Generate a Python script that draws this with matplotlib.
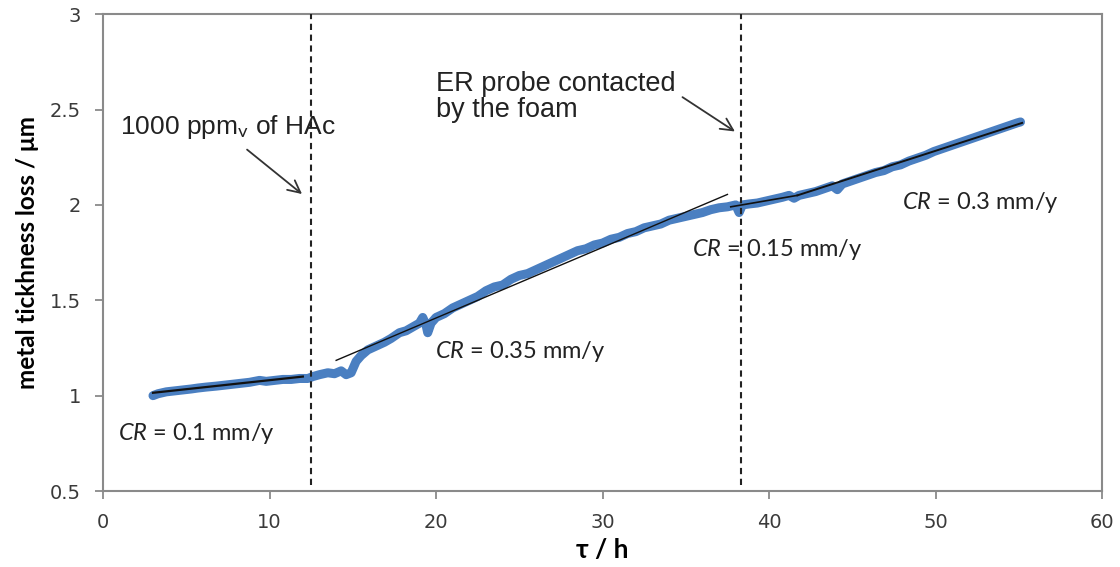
import matplotlib
matplotlib.use('Agg')
import matplotlib.pyplot as plt

plt.rcParams['mathtext.fontset'] = 'custom'
plt.rcParams['mathtext.rm'] = 'Lato'
plt.rcParams['mathtext.it'] = 'Lato:italic'

tau = [3.0, 3.3, 3.8, 4.3, 4.8, 5.3, 5.7, 6.2, 6.8, 7.3, 7.8, 8.3, 8.8, 9.4, 9.8,
       10.3, 10.8, 11.3, 11.8, 12.3, 12.6, 13.0, 13.5, 13.9, 14.3, 14.6, 14.9,
       15.2, 15.5, 15.9, 16.4, 16.9, 17.3, 17.8, 18.2, 18.6, 19.0, 19.2, 19.4,
       19.5, 19.7, 20.0, 20.5, 21.0, 21.5, 22.0, 22.5, 23.0, 23.5, 24.0, 24.5,
       25.0, 25.5, 26.0, 26.5, 27.0, 27.5, 28.0, 28.5, 29.0, 29.5, 30.0, 30.5,
       31.0, 31.5, 32.0, 32.5, 33.0, 33.5, 34.0, 34.5, 35.0, 35.5, 36.0, 36.5,
       37.0, 37.5, 38.0, 38.2, 38.4, 38.8, 39.3, 39.8, 40.3, 40.8, 41.2, 41.5,
       41.8, 42.3, 42.8, 43.3, 43.8, 44.1, 44.4, 44.9, 45.4, 45.9, 46.4, 46.9,
       47.4, 47.9, 48.4, 48.9, 49.4, 49.9, 50.4, 50.9, 51.4, 51.9, 52.4, 52.9,
       53.4, 53.9, 54.4, 54.9, 55.1]
loss = [1.00, 1.01, 1.02, 1.025, 1.03, 1.035, 1.04, 1.045, 1.05, 1.055, 1.06,
        1.065, 1.07, 1.08, 1.075, 1.08, 1.085, 1.085, 1.09, 1.09, 1.10, 1.11,
        1.12, 1.115, 1.13, 1.11, 1.12, 1.18, 1.21, 1.24, 1.26, 1.28, 1.30, 1.33,
        1.34, 1.36, 1.38, 1.41, 1.37, 1.33, 1.38, 1.41, 1.43, 1.46, 1.48, 1.50,
        1.52, 1.55, 1.57, 1.58, 1.61, 1.63, 1.64, 1.66, 1.68, 1.70, 1.72, 1.74,
        1.76, 1.77, 1.79, 1.80, 1.82, 1.83, 1.85, 1.86, 1.88, 1.89, 1.90, 1.92,
        1.93, 1.94, 1.95, 1.96, 1.975, 1.985, 1.99, 2.00, 1.96, 2.00, 2.005,
        2.01, 2.02, 2.03, 2.04, 2.05, 2.035, 2.05, 2.06, 2.07, 2.085, 2.10,
        2.08, 2.11, 2.125, 2.14, 2.155, 2.17, 2.18, 2.20, 2.21, 2.23, 2.245,
        2.26, 2.28, 2.295, 2.31, 2.325, 2.34, 2.355, 2.37, 2.385, 2.40, 2.415,
        2.43, 2.435]

# linear fits (end points)
fit_x = [[3.0, 12.0], [14.0, 37.5], [37.7, 41.7], [41.7, 55.2]]
fit_y = [[1.015, 1.10], [1.185, 2.055], [1.99, 2.05], [2.05, 2.43]]
fit_lw = [1.6, 1.0, 1.2, 1.4]

events = [12.5, 38.3]

cr_labels = ['0.1', '0.35', '0.15', '0.3']
cr_x = [0.9, 19.95, 35.4, 48.0]
cr_y = [0.80, 1.23, 1.765, 2.015]

fig = plt.figure(figsize=(11.2, 5.67), dpi=100)
ax = fig.add_axes([0.092, 0.134, 0.892, 0.841])

ax.plot(tau, loss, color='#4a7fc1', lw=6.5, solid_capstyle='round',
        solid_joinstyle='round', zorder=2)
for fx, fy, lw in zip(fit_x, fit_y, fit_lw):
    ax.plot(fx, fy, color='#111111', lw=lw, zorder=3)

for e in events:
    ax.plot([e, e], [0.53, 3.0], color='#222222', lw=1.5,
            linestyle=(0, (3, 2.2)), zorder=4)

for lab, x, y in zip(cr_labels, cr_x, cr_y):
    ax.text(x, y, r'$\it{CR}$ = ' + lab + ' mm/y', fontsize=17,
            family=['Lato', 'DejaVu Sans'], color='#222222',
            va='center', ha='left')

arrow = dict(arrowstyle='->', color='#333333', lw=1.3,
             mutation_scale=22, shrinkA=0, shrinkB=0)
ax.annotate('', xy=(11.95, 2.057), xytext=(8.65, 2.29), arrowprops=arrow)
ax.text(1.0, 2.41, r'1000 ppm$_{\mathrm{v}}$ of HAc', fontsize=19,
        family='Liberation Sans', color='#222222', va='center', ha='left')
ax.annotate('', xy=(37.95, 2.385), xytext=(34.8, 2.565), arrowprops=arrow)
ax.text(20.0, 2.565, 'ER probe contacted\nby the foam', fontsize=19.5,
        family='Liberation Sans', color='#222222', va='center', ha='left',
        linespacing=1.0)

ax.set_xlim(0, 60)
ax.set_ylim(0.5, 3)
ax.set_xticks([0, 10, 20, 30, 40, 50, 60])
ax.set_yticks([0.5, 1, 1.5, 2, 2.5, 3])
ax.set_yticklabels(['0.5', '1', '1.5', '2', '2.5', '3'])

for s in ax.spines.values():
    s.set_color('#8a8a8a')
    s.set_linewidth(1.5)
ax.tick_params(direction='out', length=6, width=1.3, color='#8a8a8a',
               labelsize=14, labelcolor='#3a3a3a', pad=10)
for t in ax.get_xticklabels() + ax.get_yticklabels():
    t.set_family('DejaVu Sans')

ax.set_xlabel('τ / h', fontsize=19, fontweight='bold',
              family=['Lato', 'DejaVu Sans'], labelpad=4)
ax.set_ylabel('metal tickhness loss / μm', fontsize=17.5, fontweight='bold',
              family=['Lato', 'DejaVu Sans'], labelpad=8)

fig.savefig('out.png', dpi=100)
